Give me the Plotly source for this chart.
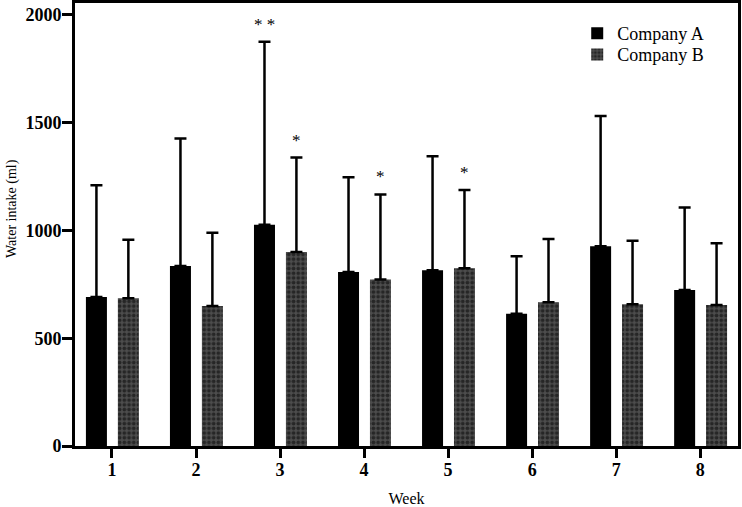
import plotly.graph_objects as go

weeks = [1, 2, 3, 4, 5, 6, 7, 8]
tick_labels = ["1", "2", "3", "4", "5", "6", "7", "8"]
company_a_mean = [691, 835, 1026, 807, 815, 613, 927, 724]
company_a_sd = [519, 592, 849, 440, 529, 267, 604, 382]
company_b_mean = [685, 650, 900, 772, 824, 667, 657, 654]
company_b_sd = [272, 339, 438, 395, 364, 293, 295, 286]
# significance marks: (week, series, label)
sig_marks = [(3, "A", "* *"), (3, "B", "*"), (4, "B", "*"), (5, "B", "*")]

BAR_W = 0.25
OFF_A = -0.31
OFF_B = 0.07
FONT = "Liberation Serif"

fig = go.Figure()
fig.add_trace(go.Bar(
    x=weeks, y=company_a_mean, name="Company A", legend="legend",
    width=BAR_W, offset=OFF_A,
    marker=dict(color="black", line=dict(width=0)),
    error_y=dict(type="data", symmetric=False, array=company_a_sd,
                 arrayminus=[0] * len(weeks), color="black",
                 thickness=2.5, width=6),
))
fig.add_trace(go.Bar(
    x=weeks, y=company_b_mean, name="Company B", legend="legend2",
    width=BAR_W, offset=OFF_B,
    marker=dict(color="#4d4d4d", line=dict(width=0),
                pattern=dict(shape=".", fgcolor="black", bgcolor="#4d4d4d",
                             size=4.7, solidity=0.5, fillmode="overlay")),
    error_y=dict(type="data", symmetric=False, array=company_b_sd,
                 arrayminus=[0] * len(weeks), color="black",
                 thickness=2.5, width=6),
))

for wk, series, label in sig_marks:
    i = weeks.index(wk)
    if series == "A":
        xc = wk + OFF_A + BAR_W / 2
        top = company_a_mean[i] + company_a_sd[i]
    else:
        xc = wk + OFF_B + BAR_W / 2
        top = company_b_mean[i] + company_b_sd[i]
    fig.add_annotation(x=xc, y=top, text=label, showarrow=False,
                       xanchor="center", yanchor="bottom", yshift=6,
                       font=dict(family=FONT, size=17, color="black"))

fig.add_annotation(xref="paper", yref="paper", x=-0.095, y=0.535,
                   text="Water intake (ml)", textangle=-90, showarrow=False,
                   xanchor="center", yanchor="middle",
                   font=dict(family=FONT, size=14, color="black"))

legend_style = dict(xanchor="left", yanchor="top", bgcolor="rgba(0,0,0,0)",
                    font=dict(family=FONT, size=18, color="black"))
fig.update_layout(
    width=742, height=507,
    margin=dict(l=75, r=4, t=3, b=61),
    plot_bgcolor="white", paper_bgcolor="white",
    barmode="overlay",
    showlegend=True,
    legend=dict(x=0.7575, y=0.973, **legend_style),
    legend2=dict(x=0.7575, y=0.925, **legend_style),
    font=dict(family=FONT, color="black"),
)
fig.update_xaxes(
    range=[0.56, 8.45], tickmode="array", tickvals=weeks, ticktext=tick_labels,
    showline=True, linecolor="black", linewidth=3, mirror=True,
    ticks="outside", ticklen=9, tickwidth=3, tickcolor="black",
    showgrid=False, zeroline=False, automargin=False, ticklabelstandoff=-4,
    tickfont=dict(family=FONT, size=18, color="black", weight="bold"),
    title=dict(text="Week", standoff=16, font=dict(family=FONT, size=16, color="black")),
)
fig.update_yaxes(
    range=[0, 2055], tickvals=[0, 500, 1000, 1500, 2000],
    showline=True, linecolor="black", linewidth=3, mirror=True,
    ticks="outside", ticklen=10, tickwidth=3, tickcolor="black",
    showgrid=False, zeroline=False, automargin=False, ticklabelstandoff=-3,
    tickfont=dict(family=FONT, size=18, color="black", weight="bold"),
)

fig.write_html("out.html", config={"displayModeBar": False},
               post_script="document.body.style.margin='0px';")
